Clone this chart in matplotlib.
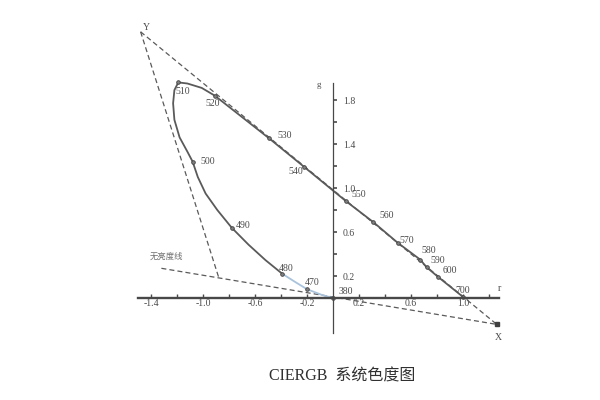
import numpy as np
import matplotlib
matplotlib.use("Agg")
import matplotlib.pyplot as plt

plt.rcParams['font.family'] = ['Liberation Serif', 'Noto Sans CJK SC']

# spectrum locus, from 380 nm round to 700 nm ('' = unlabeled point)
locus_nm = ['380', '', '470', '', '480', '', '', '490', '', '', '', '500',
            '', '', '', '', '', '510', '', '', '520', '530', '540', '550',
            '560', '570', '580', '590', '600', '700']
locus_r = [0.00, -0.09, -0.20, -0.29, -0.39, -0.52, -0.65, -0.78, -0.89, -0.98,
           -1.04, -1.08, -1.12, -1.18, -1.22, -1.23, -1.22, -1.19, -1.12, -1.01,
           -0.91, -0.49, -0.22, 0.10, 0.31, 0.50, 0.67, 0.72, 0.81, 1.00]
locus_g = [0.00, 0.03, 0.08, 0.145, 0.22, 0.345, 0.485, 0.64, 0.80, 0.95,
           1.10, 1.24, 1.33, 1.46, 1.62, 1.77, 1.89, 1.96, 1.95, 1.91,
           1.84, 1.45, 1.19, 0.88, 0.69, 0.50, 0.35, 0.28, 0.19, 0.01]
n_blue = 5  # 380 .. 480 drawn in light blue

# primaries and alychne
X = (1.26, -0.24)
Y = (-1.48, 2.42)
Z = (-0.88, 0.19)
alychne_start = (-1.32, 0.27)

xticks = [-1.4, -1.2, -1.0, -0.8, -0.6, -0.4, -0.2, 0.2, 0.4, 0.6, 0.8, 1.0, 1.2]
xticklabels = ['-1.4', '', '-1.0', '', '-0.6', '', '-0.2', '0.2', '', '0.6', '', '1.0', '']
yticks = [0.2, 0.4, 0.6, 0.8, 1.0, 1.2, 1.4, 1.6, 1.8]
yticklabels = ['0.2', '', '0.6', '', '1.0', '', '1.4', '', '1.8']

# label offsets in points
offsets = {
    '380': (9, 5), '470': (3.5, 5), '480': (3, 3.5), '490': (8, 1.5),
    '500': (11, 0), '510': (3, -6.5), '520': (-1.5, -6), '530': (11, 2),
    '540': (-6, -3), '550': (9.5, 4.5), '560': (9.5, 4.5), '570': (6.5, 2),
    '580': (6, 6.5), '590': (8, 5), '600': (8, 5), '700': (0, 4.5),
}

line_c = '#5a5a5a'
text_c = '#4a4a4a'

fig = plt.figure(figsize=(6, 4), dpi=100)
ax = fig.add_axes([0, 0, 1, 1])
ax.set_xlim(-333 / 130, 267 / 130)
ax.set_ylim(-102 / 110, 298 / 110)

# axes through the origin
ax.spines['top'].set_visible(False)
ax.spines['left'].set_visible(False)
ax.spines['bottom'].set_position(('data', 0))
ax.spines['bottom'].set_bounds(-1.5, 1.28)
ax.spines['bottom'].set_linewidth(1.7)
ax.spines['bottom'].set_color('#484848')
ax.spines['right'].set_position(('data', 0))
ax.spines['right'].set_bounds(-0.32, 1.95)
ax.spines['right'].set_linewidth(0.9)
ax.spines['right'].set_color('#484848')
ax.yaxis.tick_right()

ax.set_xticks(xticks)
ax.set_xticklabels(xticklabels)
ax.set_yticks(yticks)
ax.set_yticklabels(yticklabels)
ax.tick_params(axis='x', direction='in', length=3, width=1, pad=1,
               labelsize=7, colors=text_c)
ax.tick_params(axis='y', direction='out', length=3, width=1.2, pad=4,
               labelsize=7, colors=text_c)

# dashed triangle / alychne
dash = (0, (4, 2.5))
ax.plot([Y[0], X[0]], [Y[1], X[1]], ls=dash, color=line_c, lw=0.9)
ax.plot([Y[0], Z[0]], [Y[1], Z[1]], ls=dash, color=line_c, lw=0.9)
ax.plot([alychne_start[0], X[0]], [alychne_start[1], X[1]], ls=dash, color=line_c, lw=0.9)
ax.plot(*X, 's', ms=2.5, color='#404040')

# spectrum locus
ax.plot(locus_r[:n_blue], locus_g[:n_blue], color='#a9c3dc', lw=1.3,
        solid_joinstyle='round')
ax.plot(locus_r[n_blue - 1:], locus_g[n_blue - 1:], color=line_c, lw=1.3,
        solid_joinstyle='round')

for nm, r, g in zip(locus_nm, locus_r, locus_g):
    if not nm:
        continue
    ax.plot(r, g, 'o', ms=2.6, mfc='#808080', mec='#404040', mew=0.6)
    ax.annotate(nm, (r, g), xytext=offsets[nm], textcoords='offset points',
                ha='center', va='center', fontsize=7, color=text_c)

# names
ax.annotate('Y', Y, xytext=(4, 3), textcoords='offset points',
            ha='center', va='center', fontsize=7, color=text_c)
ax.annotate('X', X, xytext=(1, -9.5), textcoords='offset points',
            ha='center', va='center', fontsize=7, color=text_c)
ax.annotate('g', (0, 1.95), xytext=(-10, -1), textcoords='offset points',
            ha='center', va='center', fontsize=6.5, color=text_c)
ax.annotate('r', (1.28, 0), xytext=(0, 7), textcoords='offset points',
            ha='center', va='center', fontsize=7, color=text_c)
ax.annotate('无亮度线', alychne_start, xytext=(4, 8.5), textcoords='offset points',
            ha='center', va='center', fontsize=6, color='#707070')

fig.text(342 / 600, 1 - 376 / 400, 'CIERGB  系统色度图', ha='center', va='center',
         fontsize=11.5, color='#303030')

fig.savefig('out.png', dpi=100)
